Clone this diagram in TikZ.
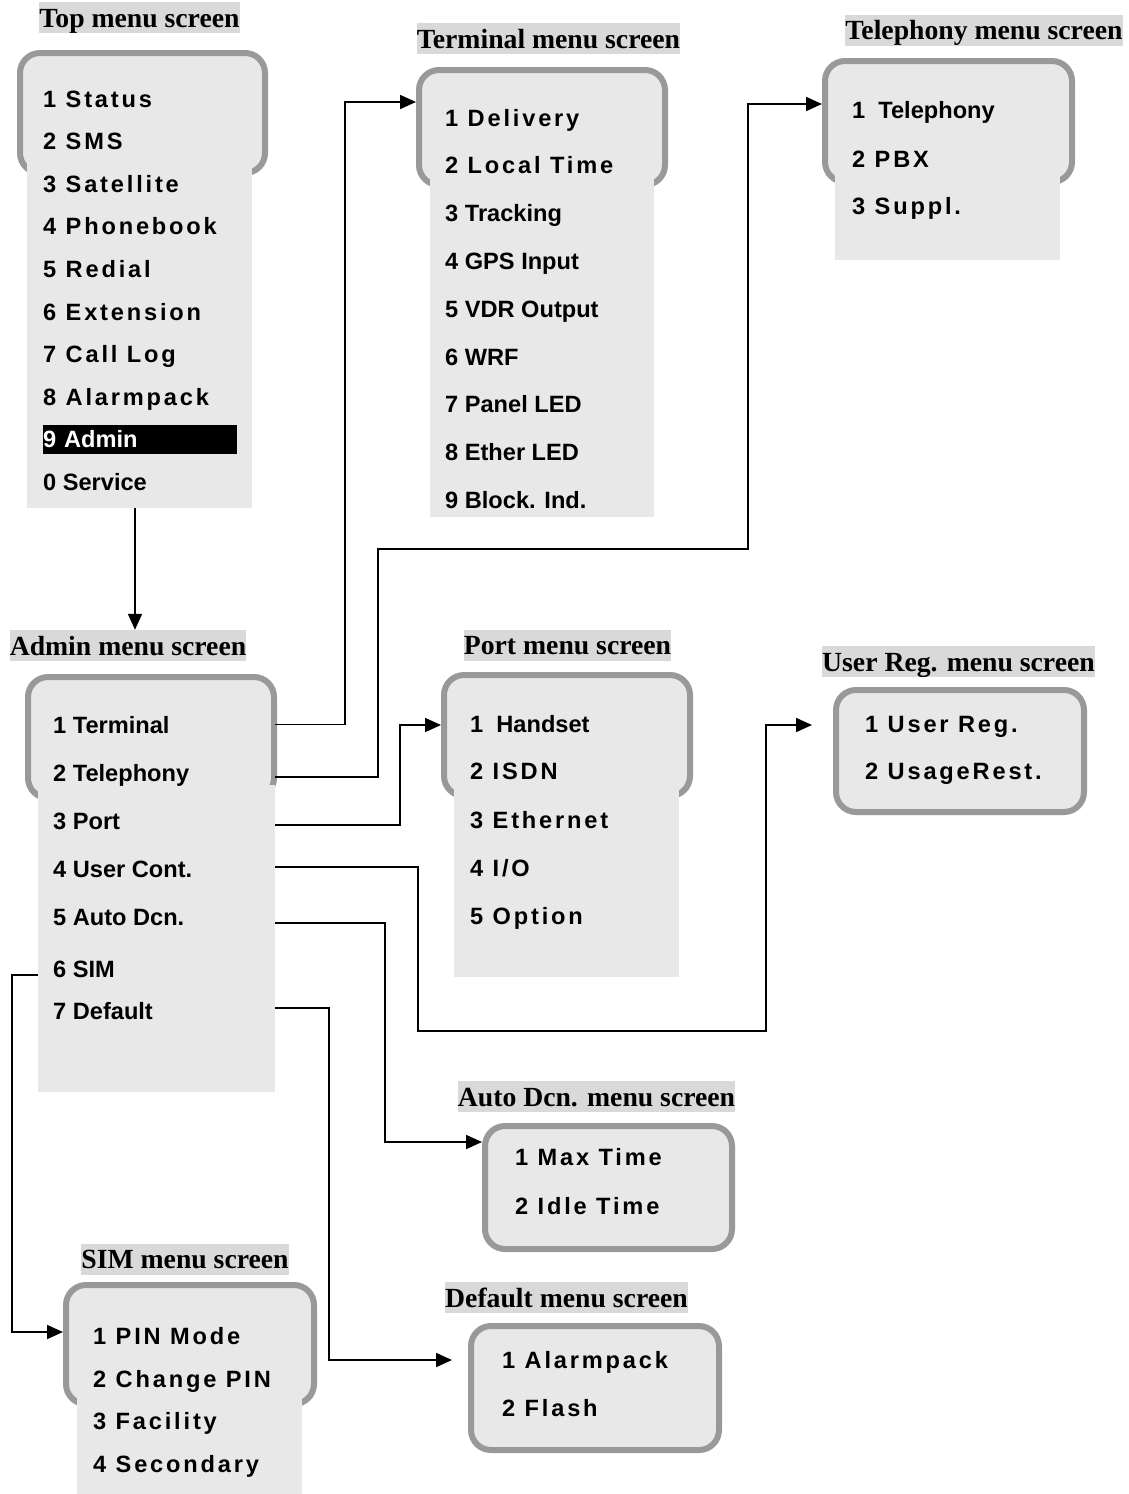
\documentclass[tikz,border=0pt]{standalone}
\usepackage{fontspec}
\setmainfont{Liberation Serif}
\newfontfamily\menufont{Liberation Sans}
\newfontfamily\menuwide{Liberation Sans}[LetterSpace=12]
\usetikzlibrary{arrows.meta, calc}
\definecolor{screengray}{RGB}{232,232,232}
\definecolor{framegray}{RGB}{153,153,153}
\definecolor{titlegray}{RGB}{217,217,217}
\tikzset{
    menuframe/.style={
        rectangle, rounded corners=20pt, draw=framegray,
        line width=6pt, fill=screengray, inner sep=0pt
    },
    menubg/.style={
        rectangle, fill=screengray, inner sep=0pt
    },
    menutitle/.style={
        fill=titlegray, inner xsep=0pt, inner ysep=3pt,
        text height=22pt, text depth=3pt,
        font=\fontsize{27.7}{30}\selectfont\bfseries
    },
    entry/.style={
        anchor=west, inner sep=0pt, text height=17pt, text depth=0pt,
        font=\fontsize{23.6}{28}\selectfont\menufont\bfseries
    },
    wentry/.style={
        entry, font=\fontsize{23.6}{28}\selectfont\menuwide\bfseries
    },
    picked/.style={
        entry, fill=black, text=white, text width=194pt, minimum height=29pt
    },
    mm/.style={
        -{Triangle[length=16pt, width=14pt]}, line width=1.8pt
    }
}
\begin{document}
\begin{tikzpicture}[x=1pt, y=-1pt]
        \useasboundingbox (0,0) rectangle (1129,1494);
        %\draw[help lines, step=50] (0,0) grid (1129,1494);

        % Top menu
        \node[menuframe, minimum width=245pt, minimum height=120pt] (topframe) at (142.5,113) {};
        \node[menubg, minimum width=225pt, minimum height=388pt] (topbg) at (139.5,314) {};
        \node[menutitle] (toptitle) at (139.5,17.5) {Top menu screen};
        \node[wentry] (top1) at (43,98.5) {1 Status};
        \node[wentry] (top2) at (43,141.1) {2 SMS};
        \node[wentry] (top3) at (43,183.7) {3 Satellite};
        \node[wentry] (top4) at (43,226.3) {4 Phonebook};
        \node[wentry] (top5) at (43,268.9) {5 Redial};
        \node[wentry] (top6) at (43,311.5) {6 Extension};
        \node[wentry] (top7) at (43,354.1) {7 Call Log};
        \node[wentry] (top8) at (43,396.7) {8 Alarmpack};
        \node[picked] (top9) at (43,439.3) {9 Admin};
        \node[entry] (top0) at (43,481.9) {0 Service};

        % Terminal menu
        \node[menuframe, minimum width=246pt, minimum height=115pt] (termframe) at (542,127.5) {};
        \node[menubg, minimum width=224pt, minimum height=347pt] (termbg) at (542,343.5) {};
        \node[menutitle] (termtitle) at (548.5,38.5) {Terminal menu screen};
        \node[wentry] (term1) at (445,117.5) {1 Delivery};
        \node[wentry] (term2) at (445,165.3) {2 Local Time};
        \node[entry] (term3) at (445,213.1) {3 Tracking};
        \node[entry] (term4) at (445,260.9) {4 GPS Input};
        \node[entry] (term5) at (445,308.7) {5 VDR Output};
        \node[entry] (term6) at (445,356.5) {6 WRF};
        \node[entry] (term7) at (445,404.3) {7 Panel LED};
        \node[entry] (term8) at (445,452.1) {8 Ether LED};
        \node[entry] (term9) at (445,499.9) {9 Block. Ind.};

        % Telephony menu
        \node[menuframe, minimum width=247pt, minimum height=121pt] (telframe) at (948.5,121.5) {};
        \node[menubg, minimum width=225pt, minimum height=90pt] (telbg) at (947.5,215) {};
        \node[menutitle] (teltitle) at (984,30) {Telephony menu screen};
        \node[entry] (tel1) at (852,110) {1~~Telephony};
        \node[wentry] (tel2) at (852,158.5) {2 PBX};
        \node[wentry] (tel3) at (852,206) {3 Suppl.};

        % Admin menu
        \node[menuframe, minimum width=246pt, minimum height=121pt] (admframe) at (151,737.5) {};
        \node[menubg, minimum width=237pt, minimum height=307pt] (admbg) at (156.5,938.5) {};
        \node[menutitle] (admtitle) at (128,645.5) {Admin menu screen};
        \node[entry] (adm1) at (53,724.5) {1 Terminal};
        \node[entry] (adm2) at (53,772.5) {2 Telephony};
        \node[entry] (adm3) at (53,821) {3 Port};
        \node[entry] (adm4) at (53,869) {4 User Cont.};
        \node[entry] (adm5) at (53,916.5) {5 Auto Dcn.};
        \node[entry] (adm6) at (53,968.5) {6 SIM};
        \node[entry] (adm7) at (53,1011) {7 Default};

        % Port menu
        \node[menuframe, minimum width=246pt, minimum height=121pt] (portframe) at (567,735.5) {};
        \node[menubg, minimum width=225pt, minimum height=192pt] (portbg) at (566.5,881) {};
        \node[menutitle] (porttitle) at (567.5,645) {Port menu screen};
        \node[entry] (port1) at (470,723.5) {1~~Handset};
        \node[wentry] (port2) at (470,771) {2 ISDN};
        \node[wentry] (port3) at (470,819.5) {3 Ethernet};
        \node[wentry] (port4) at (470,867.5) {4 I/O};
        \node[wentry] (port5) at (470,915.5) {5 Option};

        % User Reg. menu
        \node[menuframe, minimum width=248pt, minimum height=122pt] (urframe) at (960,751) {};
        \node[menutitle] (urtitle) at (958.5,661.5) {User Reg. menu screen};
        \node[wentry] (ur1) at (865,723.5) {1 User Reg.};
        \node[wentry] (ur2) at (865,771) {2 UsageRest.};

        % Auto Dcn. menu
        \node[menuframe, minimum width=247pt, minimum height=123pt] (autoframe) at (608.5,1187.5) {};
        \node[menutitle] (autotitle) at (596.5,1096.5) {Auto Dcn. menu screen};
        \node[wentry] (auto1) at (515,1157) {1 Max Time};
        \node[wentry] (auto2) at (515,1205.5) {2 Idle Time};

        % SIM menu
        \node[menuframe, minimum width=248pt, minimum height=119pt] (simframe) at (190,1344.5) {};
        \node[menubg, minimum width=225pt, minimum height=104pt] (simbg) at (189.5,1442) {};
        \node[menutitle] (simtitle) at (185,1259) {SIM menu screen};
        \node[wentry] (sim1) at (93,1335.5) {1 PIN Mode};
        \node[wentry] (sim2) at (93,1379) {2 Change PIN};
        \node[wentry] (sim3) at (93,1420.7) {3 Facility};
        \node[wentry] (sim4) at (93,1464) {4 Secondary};

        % Default menu
        \node[menuframe, minimum width=248pt, minimum height=124pt] (defframe) at (595,1388) {};
        \node[menutitle] (deftitle) at (566.5,1297.5) {Default menu screen};
        \node[wentry] (def1) at (502,1359.5) {1 Alarmpack};
        \node[wentry] (def2) at (502,1407.5) {2 Flash};

        % loose arrow ends
        \coordinate (urin) at (812,725);
        \coordinate (defin) at (452,1360);

        \draw[mm] (topbg.south -| 135,0) -- (admtitle.north -| 135,0);
        \draw[mm] (admbg.east |- adm1) -| (345,102) -- (termframe.west |- 0,102);
        \draw[mm] ($(admbg.east |- adm2)+(0,4.5)$) -| (378,549) -| (748,104) -- (telframe.west |- 0,104);
        \draw[mm] ($(admbg.east |- adm3)+(0,4)$) -| (400,725) -- (portframe.west |- 0,725);
        \draw[mm] ($(admbg.east |- adm4)+(0,-2)$) -| (418,1031) -| (766,725) -- (urin);
        \draw[mm] ($(admbg.east |- adm5)+(0,6.5)$) -| (385,1142) -- (autoframe.west |- 0,1142);
        \draw[mm] ($(admbg.west |- adm6)+(0,6.5)$) -| (12,1332) -- (simframe.west |- 0,1332);
        \draw[mm] ($(admbg.east |- adm7)+(0,-3)$) -| (329,1360) -- (defin);
\end{tikzpicture}
\end{document}
